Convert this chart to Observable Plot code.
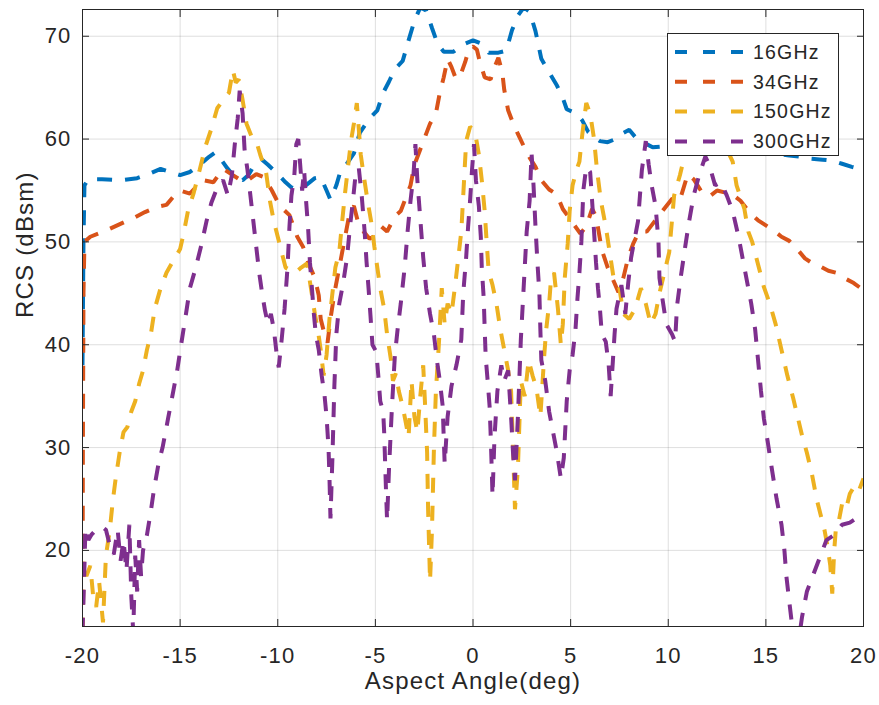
<!DOCTYPE html>
<html><head><meta charset="utf-8">
<script src="https://cdn.jsdelivr.net/npm/d3@7"></script>
<script src="https://cdn.jsdelivr.net/npm/@observablehq/plot@0.6"></script>
<style>
body{margin:0;background:#fff;}
#wrap{position:relative;width:879px;height:705px;}
#legend{position:absolute;left:667px;top:33px;width:170px;height:121px;background:#fff;border:1px solid #262626;}
</style></head><body><div id="wrap"></div>
<script>
const xTicks = [-20, -15, -10, -5, 0, 5, 10, 15, 20];
const yTicks = [20, 30, 40, 50, 60, 70];
const seriesNames = ["16GHz", "34GHz", "150GHz", "300GHz"];
const seriesColors = ["#0072BD", "#D95319", "#EDB120", "#7E2F8E"];
const xLabel = "Aspect Angle(deg)";
const yLabel = "RCS (dBsm)";

const rcs16 = [[-20,38],[-19.95,50],[-19.9,55.5],[-19.7,56.1],[-19.0,56.1],[-18,56.0],[-17.2,56.2],[-16.6,56.6],[-16.0,57.1],[-15.5,56.8],[-15.0,56.5],[-14.5,56.8],[-14.0,57.5],[-13.5,58.3],[-13.2,58.7],[-12.9,58.0],[-12.6,57.2],[-12.2,56.3],[-11.8,56.0],[-11.5,56.5],[-11.2,57.5],[-10.8,58.0],[-10.5,57.5],[-10.0,56.6],[-9.6,55.8],[-9.3,55.3],[-8.9,55.0],[-8.5,55.6],[-8.1,56.2],[-7.8,56.3],[-7.5,55.0],[-7.3,54.1],[-7.0,55.5],[-6.8,56.8],[-6.5,57.5],[-6.1,58.6],[-5.8,60.6],[-5.3,62.0],[-4.9,62.8],[-4.6,64.5],[-4.3,65.6],[-4.0,66.8],[-3.6,67.6],[-3.3,69.6],[-3.0,71.5],[-2.7,72.8],[-2.4,72.5],[-2.1,70.8],[-1.8,69.2],[-1.5,68.5],[-1.0,68.5],[-0.5,69.2],[0,69.6],[0.4,69.3],[0.8,68.4],[1.3,68.4],[1.7,68.6],[2.0,70.6],[2.3,72.0],[2.6,72.8],[2.9,72.4],[3.2,70.5],[3.5,67.8],[3.9,66.5],[4.3,65.2],[4.6,64.0],[4.8,62.9],[5.3,62.5],[5.6,61.8],[5.9,60.7],[6.2,60.2],[6.5,59.8],[6.9,59.7],[7.3,60.0],[7.7,60.6],[8.0,60.9],[8.4,60.0],[8.8,59.6],[9.2,59.2],[9.8,59.3],[10.5,59.5],[11.5,59.5],[12.5,59.2],[13.5,59.0],[14.5,58.8],[15.5,58.6],[16.2,58.4],[16.7,58.3],[17.3,58.1],[17.9,58.0],[18.4,57.9],[18.9,57.6],[19.4,57.3],[20,57.0]];

const rcs34 = [[-20,12],[-19.98,30],[-19.95,45],[-19.9,50.0],[-19.6,50.5],[-19.2,50.8],[-18.8,51.1],[-18.0,51.8],[-17.4,52.3],[-16.8,52.9],[-16.2,53.4],[-15.7,53.6],[-15.3,54.5],[-15.0,55.0],[-14.5,54.7],[-14.1,55.5],[-13.8,56.0],[-13.3,55.8],[-12.8,57.1],[-12.3,56.5],[-11.9,56.0],[-11.6,55.9],[-11.1,56.6],[-10.7,56.3],[-10.3,55.0],[-9.9,53.5],[-9.4,52.6],[-9.0,50.5],[-8.7,49.5],[-8.4,47.8],[-8.1,46.5],[-7.9,44.8],[-7.8,42.5],[-7.6,41.0],[-7.45,40.2],[-7.3,42.5],[-7.1,45.0],[-6.9,47.0],[-6.7,49.0],[-6.5,51.0],[-6.3,53.0],[-6.1,53.5],[-5.9,52.0],[-5.6,51.0],[-5.3,50.3],[-5.0,50.6],[-4.7,51.5],[-4.4,51.0],[-4.0,52.5],[-3.7,53.0],[-3.4,54.5],[-3.2,55.5],[-3.0,57.5],[-2.8,58.5],[-2.5,60.0],[-2.2,61.5],[-1.9,62.5],[-1.7,64.5],[-1.5,66.0],[-1.3,67.8],[-1.1,67.0],[-0.9,66.0],[-0.7,65.9],[-0.4,67.5],[-0.2,68.8],[0,69.0],[0.2,68.7],[0.35,67.5],[0.6,66.0],[0.9,65.8],[1.1,67.0],[1.3,67.9],[1.5,66.5],[1.6,64.8],[1.8,62.8],[2.0,61.8],[2.3,60.5],[2.6,59.3],[2.9,58.2],[3.2,57.3],[3.5,56.0],[3.9,55.1],[4.3,54.6],[4.6,53.2],[4.9,52.4],[5.2,51.6],[5.5,50.8],[5.8,51.5],[6.1,53.2],[6.3,52.5],[6.6,49.2],[6.9,47.5],[7.2,46.2],[7.45,45.1],[7.7,46.5],[7.95,48.5],[8.2,49.8],[8.5,51.0],[8.9,51.0],[9.3,52.0],[9.7,53.0],[10.2,54.2],[10.6,54.1],[11.0,56.6],[11.3,56.1],[11.7,54.9],[12.1,54.4],[12.5,55.0],[12.9,54.8],[13.3,54.6],[13.7,54.0],[14.2,52.8],[14.6,52.1],[15.0,51.6],[15.4,51.1],[15.8,50.5],[16.2,50.1],[16.6,49.3],[17.0,48.4],[17.4,47.9],[17.8,47.6],[18.2,47.2],[18.6,47.0],[19.0,46.5],[19.5,46.0],[20,45.3]];

const rcs150 = [[-20,12],[-19.93,19.0],[-19.8,17.5],[-19.6,18.5],[-19.45,15.5],[-19.3,14.5],[-19.15,17.0],[-19.05,15.0],[-18.95,13.0],[-18.8,19.5],[-18.6,22.0],[-18.45,24.8],[-18.3,27.0],[-18.1,29.5],[-17.9,31.5],[-17.7,32.0],[-17.5,33.5],[-17.3,34.5],[-17.1,36.2],[-16.9,37.5],[-16.7,39.5],[-16.5,41.0],[-16.3,43.5],[-16.0,45.5],[-15.7,47.0],[-15.4,48.0],[-15.0,49.3],[-14.8,51.0],[-14.6,53.0],[-14.3,54.8],[-14.0,57.0],[-13.7,59.3],[-13.4,61.0],[-13.1,63.0],[-12.8,63.8],[-12.5,64.5],[-12.3,66.7],[-12.15,65.5],[-12.0,65.8],[-11.8,63.8],[-11.6,61.5],[-11.35,60.3],[-11.1,59.8],[-10.9,58.5],[-10.6,56.8],[-10.4,54.0],[-10.2,52.0],[-10.0,50.5],[-9.8,49.0],[-9.6,47.5],[-9.4,47.3],[-9.1,47.0],[-8.8,47.5],[-8.5,47.9],[-8.3,45.5],[-8.1,43.0],[-7.95,41.5],[-7.8,39.5],[-7.65,37.0],[-7.5,39.0],[-7.35,42.5],[-7.2,45.0],[-7.05,47.5],[-6.85,49.0],[-6.7,52.0],[-6.55,54.8],[-6.4,57.3],[-6.25,59.8],[-6.1,61.5],[-5.95,63.5],[-5.85,61.0],[-5.75,58.5],[-5.6,56.5],[-5.4,54.0],[-5.2,51.8],[-5.05,49.5],[-4.9,47.5],[-4.75,45.5],[-4.55,43.5],[-4.4,41.0],[-4.2,38.5],[-4.1,36.5],[-3.95,37.2],[-3.8,35.5],[-3.6,34.0],[-3.45,32.5],[-3.3,31.0],[-3.15,36.5],[-3.0,33.0],[-2.85,31.5],[-2.7,35.0],[-2.55,38.0],[-2.45,34.0],[-2.35,29.5],[-2.3,24.0],[-2.25,20.5],[-2.2,17.0],[-2.1,22.0],[-2.0,30.0],[-1.9,35.5],[-1.75,40.0],[-1.6,45.5],[-1.45,42.0],[-1.3,44.0],[-1.1,43.0],[-0.9,46.0],[-0.75,48.5],[-0.6,51.0],[-0.5,54.5],[-0.35,59.8],[-0.15,61.2],[0.1,60.7],[0.3,58.5],[0.45,56.0],[0.6,53.0],[0.7,50.0],[0.8,47.2],[1.0,45.8],[1.2,44.0],[1.4,41.5],[1.6,39.5],[1.8,37.5],[1.95,35.5],[2.05,30.0],[2.15,24.0],[2.3,28.0],[2.45,36.5],[2.65,35.0],[2.85,38.5],[3.05,37.0],[3.25,35.8],[3.45,33.0],[3.55,36.0],[3.65,39.0],[3.75,41.5],[3.9,44.0],[4.0,46.5],[4.15,47.0],[4.35,43.5],[4.5,40.0],[4.6,42.0],[4.7,46.5],[4.85,49.8],[4.95,53.0],[5.1,55.5],[5.3,57.0],[5.45,57.8],[5.6,60.5],[5.8,63.5],[6.0,62.5],[6.2,60.0],[6.35,57.0],[6.55,54.0],[6.8,51.5],[7.0,49.0],[7.2,46.5],[7.5,45.5],[7.7,43.0],[8.0,42.5],[8.3,43.5],[8.6,45.5],[8.85,44.0],[9.1,42.0],[9.35,43.0],[9.55,45.0],[9.8,47.0],[10.05,49.0],[10.3,54.5],[10.6,56.5],[10.85,58.5],[11.2,59.8],[11.8,60.3],[12.5,59.8],[13.0,59.0],[13.3,57.8],[13.5,55.5],[13.9,53.2],[14.1,51.0],[14.3,50.0],[14.6,47.8],[14.9,45.6],[15.2,44.0],[15.5,42.0],[15.8,39.5],[16.1,37.0],[16.4,34.8],[16.6,33.2],[16.85,31.2],[17.1,29.5],[17.35,27.5],[17.6,25.0],[17.8,23.5],[18.0,22.0],[18.15,20.5],[18.3,18.5],[18.4,15.8],[18.5,20.0],[18.6,22.5],[18.75,23.0],[18.9,24.5],[19.1,24.0],[19.3,25.5],[19.6,26.5],[19.8,26.0],[20,27.0]];

const rcs300 = [[-20,12],[-19.92,17.0],[-19.85,22.2],[-19.7,21.0],[-19.55,21.5],[-19.3,22.0],[-19.0,22.3],[-18.8,22.0],[-18.6,20.5],[-18.4,19.6],[-18.2,22.0],[-18.05,19.0],[-17.9,21.0],[-17.75,18.0],[-17.6,22.5],[-17.5,15.5],[-17.4,12],[-17.3,19.5],[-17.2,16.0],[-17.1,21.0],[-17.0,17.5],[-16.9,20.0],[-16.7,21.5],[-16.5,23.8],[-16.35,25.8],[-16.1,28.5],[-15.9,30.0],[-15.6,33.0],[-15.35,35.5],[-15.15,37.5],[-14.95,40.0],[-14.7,43.0],[-14.5,45.5],[-14.2,47.5],[-13.9,49.8],[-13.65,52.0],[-13.4,53.8],[-13.1,55.3],[-12.8,56.0],[-12.55,54.5],[-12.35,56.5],[-12.2,59.5],[-12.05,62.0],[-11.95,64.7],[-11.8,62.5],[-11.7,59.0],[-11.55,57.0],[-11.4,54.5],[-11.25,52.0],[-11.1,49.5],[-10.95,47.0],[-10.8,45.0],[-10.65,43.3],[-10.5,42.0],[-10.35,43.0],[-10.2,41.5],[-10.05,39.0],[-9.95,37.8],[-9.8,40.5],[-9.65,43.5],[-9.5,47.5],[-9.4,51.5],[-9.3,54.5],[-9.15,56.5],[-9.05,59.5],[-8.95,60.0],[-8.85,57.5],[-8.75,55.0],[-8.65,57.0],[-8.55,54.0],[-8.45,51.5],[-8.35,48.0],[-8.25,45.5],[-8.15,43.0],[-8.05,41.0],[-7.9,39.5],[-7.75,37.0],[-7.6,35.0],[-7.5,33.0],[-7.4,30.0],[-7.35,27.0],[-7.3,23.1],[-7.2,29.0],[-7.1,36.0],[-7.0,41.0],[-6.85,44.0],[-6.65,46.0],[-6.45,48.5],[-6.3,51.5],[-6.15,54.0],[-6.0,56.8],[-5.85,57.2],[-5.7,54.5],[-5.55,51.0],[-5.45,48.0],[-5.35,45.5],[-5.25,42.8],[-5.15,40.0],[-4.95,39.3],[-4.85,37.0],[-4.75,34.5],[-4.6,33.5],[-4.55,31.5],[-4.5,28.5],[-4.45,25.5],[-4.4,22.9],[-4.3,28.0],[-4.15,34.0],[-4.0,39.0],[-3.85,41.7],[-3.7,44.0],[-3.5,47.5],[-3.35,51.0],[-3.2,54.0],[-3.05,56.5],[-2.95,59.5],[-2.85,56.0],[-2.75,53.5],[-2.65,51.0],[-2.55,48.5],[-2.4,45.5],[-2.2,43.0],[-2.0,41.0],[-1.85,38.5],[-1.7,36.5],[-1.55,34.0],[-1.5,31.0],[-1.45,28.4],[-1.3,33.0],[-1.1,36.0],[-0.85,38.0],[-0.6,40.5],[-0.5,45.0],[-0.35,48.5],[-0.25,51.5],[-0.15,54.0],[-0.05,57.0],[0.05,59.5],[0.15,56.0],[0.3,53.5],[0.4,50.5],[0.45,47.5],[0.55,44.5],[0.6,41.5],[0.65,38.8],[0.75,36.5],[0.85,34.0],[0.9,31.5],[0.95,28.5],[1.0,25.3],[1.1,31.0],[1.25,35.5],[1.45,38.0],[1.6,36.5],[1.8,37.5],[1.95,33.0],[2.05,29.5],[2.15,26.8],[2.3,33.0],[2.45,40.5],[2.55,44.0],[2.65,47.5],[2.75,51.0],[2.9,54.0],[3.0,58.6],[3.1,55.5],[3.2,51.5],[3.3,48.0],[3.4,45.0],[3.45,41.5],[3.5,38.5],[3.7,36.5],[3.9,33.5],[4.1,31.5],[4.3,29.5],[4.5,27.0],[4.65,29.0],[4.8,34.5],[4.95,37.5],[5.1,39.0],[5.25,41.5],[5.35,44.5],[5.45,47.0],[5.55,50.0],[5.65,55.0],[5.8,57.3],[6.0,56.8],[6.1,54.0],[6.2,51.0],[6.3,48.0],[6.4,45.5],[6.5,43.5],[6.6,41.0],[6.8,40.3],[6.95,38.0],[7.05,35.0],[7.15,38.0],[7.25,41.0],[7.35,43.5],[7.6,45.8],[7.8,43.0],[7.95,46.0],[8.1,48.5],[8.3,50.5],[8.45,52.0],[8.55,54.5],[8.65,57.0],[8.85,59.8],[9.0,57.5],[9.15,55.5],[9.35,53.5],[9.5,50.0],[9.55,46.5],[9.7,44.5],[9.9,42.0],[10.2,41.0],[10.35,40.3],[10.45,43.8],[10.65,46.7],[10.85,49.3],[11.05,51.8],[11.3,54.5],[11.6,56.6],[11.9,58.3],[12.1,57.5],[12.4,55.5],[12.7,55.8],[13.0,54.5],[13.3,53.0],[13.6,50.5],[13.8,48.5],[14.0,46.5],[14.25,44.0],[14.45,41.5],[14.6,38.5],[14.75,35.5],[14.9,32.8],[15.1,30.5],[15.3,28.0],[15.55,25.0],[15.8,22.5],[15.95,20.0],[16.05,17.5],[16.2,15.0],[16.35,12.6],[16.45,11],[16.7,11.5],[16.85,13.5],[17.1,16.0],[17.4,17.5],[17.8,19.5],[18.1,21.0],[18.5,21.5],[18.9,22.5],[19.3,22.7],[19.7,23.2],[20,23.7]];

const series = [rcs16, rcs34, rcs150, rcs300];

const font = '"Liberation Sans", Arial, Helvetica, sans-serif';
const ink = "#262626";
const plain = d => String(d);

const chart = Plot.plot({
  width: 879, height: 705,
  marginLeft: 82, marginRight: 16, marginTop: 9, marginBottom: 79,
  style: {fontFamily: font, fontSize: "21px", color: ink, background: "#fff", letterSpacing: "1.2px"},
  x: {domain: [-20, 20]},
  y: {domain: [12.6, 72.6]},
  marks: [
    Plot.gridX(xTicks, {stroke: ink, strokeOpacity: 0.15, strokeWidth: 1}),
    Plot.gridY(yTicks, {stroke: ink, strokeOpacity: 0.15, strokeWidth: 1}),
    ...series.map((pts, i) => Plot.line(pts, {
      x: d => d[0], y: d => d[1],
      stroke: seriesColors[i], strokeWidth: 4,
      strokeDasharray: "15,13", strokeLinecap: "butt", strokeLinejoin: "miter",
      clip: true
    })),
    Plot.frame({stroke: ink, strokeWidth: 1}),
    Plot.axisX(xTicks, {anchor: "bottom", tickSize: -7, tickPadding: 28, fontSize: 22, tickFormat: plain, label: null, stroke: ink}),
    Plot.axisX(xTicks, {anchor: "top", tickSize: -7, tickFormat: () => "", label: null, stroke: ink}),
    Plot.axisY(yTicks, {anchor: "left", tickSize: -7, tickPadding: 18, fontSize: 22, tickFormat: plain, label: null, stroke: ink}),
    Plot.axisY(yTicks, {anchor: "right", tickSize: -7, tickFormat: () => "", label: null, stroke: ink}),
    Plot.text([xLabel], {text: d => d, frameAnchor: "bottom", dy: 62, fontSize: 24, fill: ink}),
    Plot.text([yLabel], {text: d => d, frameAnchor: "left", dx: -57, rotate: -90, fontSize: 24, fill: ink})
  ]
});

const wrap = document.getElementById("wrap");
wrap.appendChild(chart);

// legend overlay
const legend = document.createElement("div");
legend.id = "legend";
wrap.appendChild(legend);
const lsvg = d3.select(legend).append("svg").attr("width", 170).attr("height", 121)
  .style("font-family", font).style("font-size", "19.5px").style("letter-spacing", "1.2px");
seriesNames.forEach((name, i) => {
  const cy = 18 + i * 29.8;
  lsvg.append("line").attr("x1", 7).attr("x2", 78).attr("y1", cy).attr("y2", cy)
    .attr("stroke", seriesColors[i]).attr("stroke-width", 4).attr("stroke-dasharray", "12,16");
  lsvg.append("text").attr("x", 85).attr("y", cy).attr("dy", "0.35em").attr("fill", ink).text(name);
});
</script></body></html>
